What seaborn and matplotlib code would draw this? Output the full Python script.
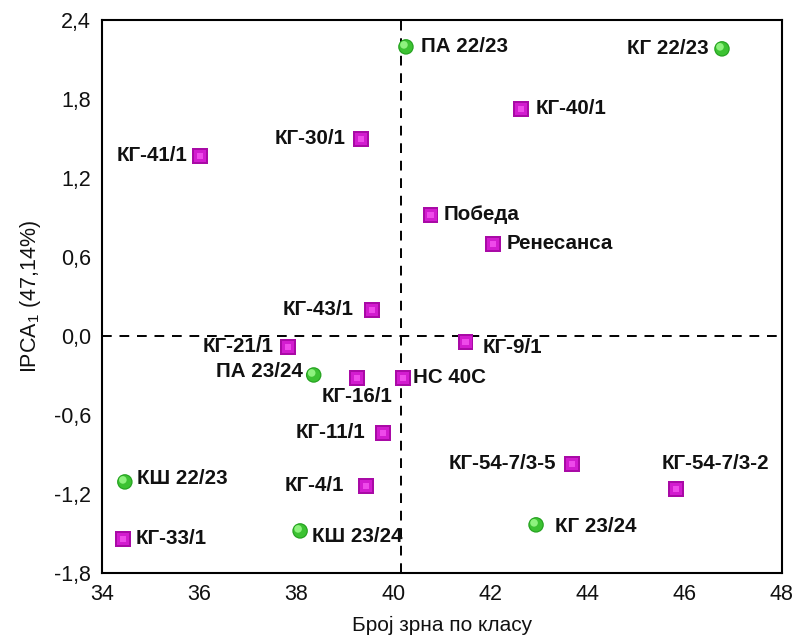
import numpy as np
import pandas as pd
import matplotlib
matplotlib.use("Agg")
import matplotlib.pyplot as plt
import matplotlib.transforms as mtransforms
import seaborn as sns

# Genotypes / years
names = ["ПА 22/23", "КГ 22/23", "КГ-40/1", "КГ-30/1", "КГ-41/1", "Победа",
         "Ренесанса", "КГ-43/1", "КГ-21/1", "КГ-9/1", "ПА 23/24", "КГ-16/1",
         "НС 40С", "КГ-11/1", "КГ-54-7/3-5", "КГ-54-7/3-2", "КШ 22/23",
         "КГ-4/1", "КГ-33/1", "КШ 23/24", "КГ 23/24"]
grain_count = [40.26, 46.77, 42.63, 39.33, 36.02, 40.77,
               42.05, 39.56, 37.83, 41.49, 38.36, 39.25,
               40.20, 39.79, 43.68, 45.82, 34.47,
               39.44, 34.43, 38.08, 42.94]
ipca1 = [2.195, 2.18, 1.724, 1.496, 1.367, 0.919,
         0.699, 0.198, -0.083, -0.045, -0.296, -0.318,
         -0.318, -0.736, -0.971, -1.161, -1.108,
         -1.138, -1.541, -1.480, -1.434]
group = ["env", "env", "gen", "gen", "gen", "gen",
         "gen", "gen", "gen", "gen", "env", "gen",
         "gen", "gen", "gen", "gen", "env",
         "gen", "gen", "env", "env"]

x_ticks = [34, 36, 38, 40, 42, 44, 46, 48]
y_ticks = [-1.8, -1.2, -0.6, 0.0, 0.6, 1.2, 1.8, 2.4]

# label placement: (dx px, dy px, ha)
label_pos = {
    "ПА 22/23": (15, 0, "left"), "КГ 22/23": (-13, 0, "right"),
    "КГ-40/1": (15, 0, "left"), "КГ-30/1": (-15, 0, "right"),
    "КГ-41/1": (-13, 0, "right"), "Победа": (13, 0, "left"),
    "Ренесанса": (14, 0, "left"), "КГ-43/1": (-18, 0, "right"),
    "КГ-21/1": (-14, 0, "right"), "КГ-9/1": (17, -6, "left"),
    "ПА 23/24": (-11, 3, "right"), "КГ-16/1": (0, -19, "center"),
    "НС 40С": (10, 0, "left"), "КГ-11/1": (-18, 0, "right"),
    "КГ-54-7/3-5": (-16, 0, "right"), "КГ-54-7/3-2": (40, 25, "center"),
    "КШ 22/23": (12, 3, "left"), "КГ-4/1": (-22, 0, "right"),
    "КГ-33/1": (13, 0, "left"), "КШ 23/24": (12, -6, "left"),
    "КГ 23/24": (19, -2, "left"),
}

df = pd.DataFrame({"name": names, "x": grain_count, "y": ipca1, "group": group})

sns.set_theme(style="white")
plt.rcParams["font.family"] = ["Liberation Sans", "DejaVu Sans"]
plt.rcParams["mathtext.fontset"] = "custom"
plt.rcParams["mathtext.rm"] = "Liberation Sans"
plt.rcParams["mathtext.it"] = "Liberation Sans"

fig = plt.figure(figsize=(7.94, 6.41), dpi=100)
ax = fig.add_axes([0.1285, 0.106, 0.856, 0.863])

# reference lines through the means
ax.axvline(np.mean(grain_count), color="black", lw=1.4, ls=(0, (5, 4)), zorder=1)
ax.axhline(0.0, color="black", lw=1.4, ls=(0, (5, 4)), zorder=1)

sns.scatterplot(data=df, x="x", y="y", hue="group", style="group",
                markers={"gen": "s", "env": "o"},
                palette={"gen": "#a90aa6", "env": "#25a220"},
                hue_order=["gen", "env"],
                s=125, edgecolor="none", linewidth=0, legend=False, ax=ax, zorder=3)

# shading on top of the base markers
gen = df[df.group == "gen"]
env = df[df.group == "env"]
ax.scatter(gen.x, gen.y, marker="s", s=75, color="#d21ccf", edgecolor="none", zorder=4)
ax.scatter(gen.x, gen.y, marker="s", s=22, color="#ee4aea", edgecolor="none", zorder=4)
ax.scatter(env.x, env.y, marker="o", s=90, color="#3cc232", edgecolor="none", zorder=4)
shift = mtransforms.ScaledTranslation(-2 / 100, 2 / 100, fig.dpi_scale_trans)
ax.scatter(env.x, env.y, marker="o", s=30, color="#8ef27e", edgecolor="none",
           zorder=5, transform=ax.transData + shift)

for n, xv, yv in zip(names, grain_count, ipca1):
    dx, dy, ha = label_pos[n]
    ax.annotate(n, (xv, yv), xytext=(dx, dy), textcoords="offset pixels",
                ha=ha, va="center", fontsize=14.8, fontweight="bold",
                color="#111111", zorder=6)

ax.set_xlim(34, 48)
ax.set_ylim(-1.8, 2.4)
ax.set_xticks(x_ticks)
ax.set_yticks(y_ticks)
ax.set_yticklabels([f"{v:.1f}".replace(".", ",") for v in y_ticks])
ax.tick_params(axis="both", length=0, labelsize=15.5, colors="#111111", pad=8)
ax.set_xlabel("Број зрна по класу", fontsize=15, color="#111111", labelpad=8)
ax.set_ylabel(r"IPCA$_1$ (47,14%)", fontsize=15.5, color="#111111", labelpad=8)
for sp in ax.spines.values():
    sp.set_visible(True)
    sp.set_color("black")
    sp.set_linewidth(1.5)

fig.savefig("out.png", dpi=100, facecolor="white")
